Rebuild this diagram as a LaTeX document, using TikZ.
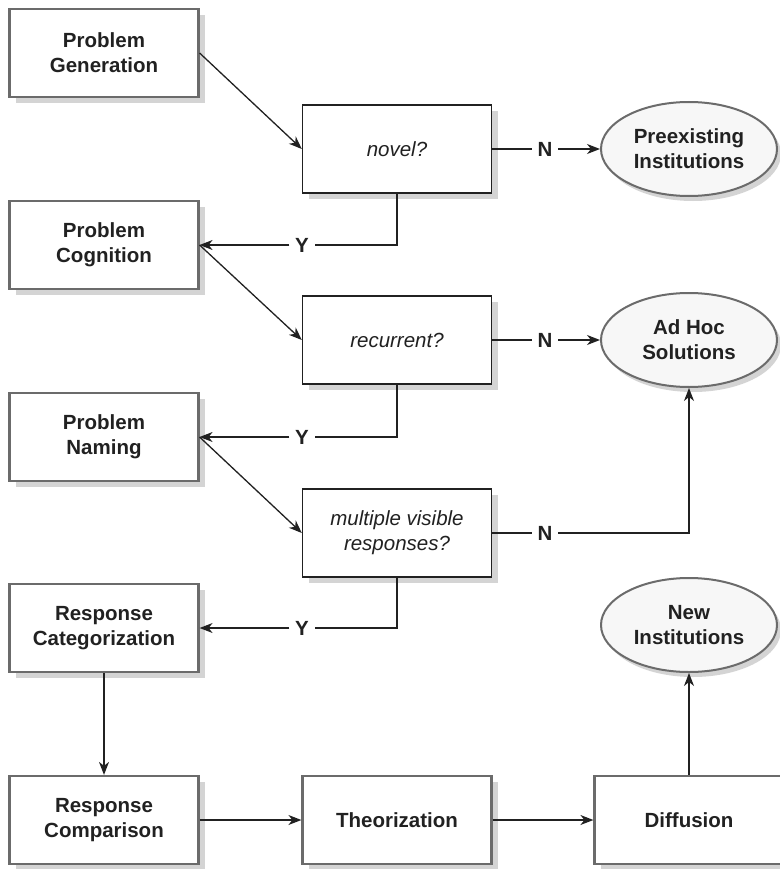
\documentclass[tikz,border=0pt]{standalone}
\usepackage{fontspec}
\setmainfont{Liberation Sans}
\usetikzlibrary{shapes.geometric,shadows,arrows.meta}
\definecolor{boxline}{gray}{0.42}
\definecolor{shade}{gray}{0.83}
\definecolor{ink}{gray}{0.13}
\tikzset{
  stage/.style={draw=boxline, line width=2.2pt, fill=white, text=ink,
    minimum width=189pt, minimum height=88pt, align=center,
    font=\bfseries\fontsize{20.5}{25}\selectfont,
    drop shadow={shadow xshift=6pt, shadow yshift=-6pt, fill=shade, opacity=1}},
  query/.style={draw=ink, line width=1.4pt, fill=white, text=ink,
    minimum width=189pt, minimum height=88pt, align=center,
    font=\itshape\fontsize{20.5}{25}\selectfont,
    drop shadow={shadow xshift=6pt, shadow yshift=-6pt, fill=shade, opacity=1}},
  outcome/.style={ellipse, draw=boxline, line width=2pt, fill=gray!6, text=ink,
    minimum width=176pt, minimum height=94pt, inner sep=0pt, align=center,
    font=\bfseries\fontsize{20.5}{25}\selectfont,
    drop shadow={shadow xshift=4pt, shadow yshift=-5pt, fill=shade, opacity=1}},
  answer/.style={text=ink, inner sep=5.5pt, font=\bfseries\fontsize{20.5}{25}\selectfont},
  flow/.style={draw=ink, line width=1.3pt},
  >={Stealth[length=13pt,width=10pt,inset=4pt]}
}
\begin{document}
\begin{tikzpicture}[x=1pt, y=-1pt]
  \useasboundingbox (0,0) rectangle (779,869);
  % left column
  \node[stage] (gen) at (104,53) {Problem\\Generation};
  \node[stage] (cog) at (104,245) {Problem\\Cognition};
  \node[stage] (nam) at (104,437) {Problem\\Naming};
  \node[stage] (cat) at (104,628) {Response\\Categorization};
  \node[stage] (cmp) at (104,820) {Response\\Comparison};
  % questions
  \node[query] (novel) at (397,149) {novel?};
  \node[query] (recur) at (397,340) {recurrent?};
  \node[query] (multi) at (397,533) {multiple visible\\responses?};
  % outcomes
  \node[outcome] (pre) at (689,149) {Preexisting\\Institutions};
  \node[outcome] (adhoc) at (689,340) {Ad Hoc\\Solutions};
  \node[outcome] (new) at (689,625) {New\\Institutions};
  % bottom row
  \node[stage] (theo) at (397,820) {Theorization};
  \node[stage] (diff) at (689,820) {Diffusion};

  % answers
  \node[answer] (n1) at (545,149) {N};
  \node[answer] (n2) at (545,340) {N};
  \node[answer] (n3) at (545,533) {N};
  \node[answer] (y1) at (302,245) {Y};
  \node[answer] (y2) at (302,437) {Y};
  \node[answer] (y3) at (302,628) {Y};

  % into the questions
  \draw[flow,->] (gen.east) -- (novel.west);
  \draw[flow,->] (cog.east) -- (recur.west);
  \draw[flow,->] (nam.east) -- (multi.west);
  % no branches
  \draw[flow] (novel.east) -- (n1.west);
  \draw[flow,->] (n1.east) -- (pre.west);
  \draw[flow] (recur.east) -- (n2.west);
  \draw[flow,->] (n2.east) -- (adhoc.west);
  \draw[flow] (multi.east) -- (n3.west);
  \draw[flow,->] (n3.east) -| (adhoc.south);
  % yes branches
  \draw[flow] (novel.south) |- (y1.east);
  \draw[flow,->] (y1.west) -- (cog.east);
  \draw[flow] (recur.south) |- (y2.east);
  \draw[flow,->] (y2.west) -- (nam.east);
  \draw[flow] (multi.south) |- (y3.east);
  \draw[flow,->] (y3.west) -- (cat.east);
  % last steps
  \draw[flow,->] (cat.south) -- (cmp.north);
  \draw[flow,->] (cmp.east) -- (theo.west);
  \draw[flow,->] (theo.east) -- (diff.west);
  \draw[flow,->] (diff.north) -- (new.south);
\end{tikzpicture}
\end{document}
